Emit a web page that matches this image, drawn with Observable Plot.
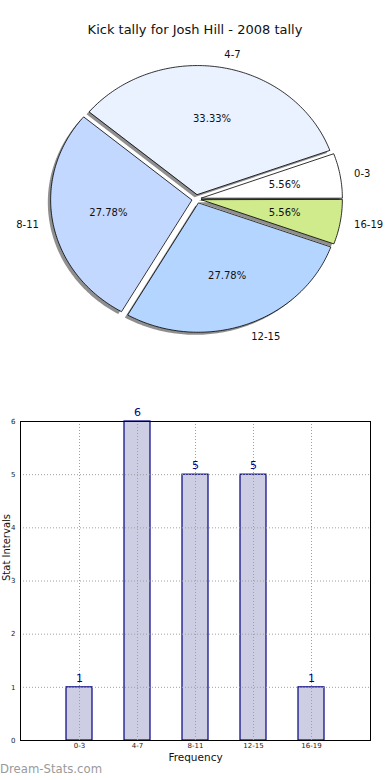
<!DOCTYPE html>
<html>
<head>
<meta charset="utf-8">
<script src="https://cdn.jsdelivr.net/npm/d3@7"></script>
<script src="https://cdn.jsdelivr.net/npm/@observablehq/plot@0.6"></script>
<style>
  body { margin: 0; background: #fff; font-family: "DejaVu Sans", sans-serif; }
  #page { position: relative; width: 390px; height: 780px; overflow: hidden; background: #fff; }
  #title { height: 40px; box-sizing: border-box; padding-top: 22px; font-size: 13px; line-height: 15px; text-align: center; color: #111; }
  #pie, #bar { line-height: 0; }
  #wm { position: absolute; left: 0; top: 762px; font-size: 11.7px; line-height: 15px; color: #9a9a9a; }
</style>
</head>
<body>
<div id="page">
  <div id="title">Kick tally for Josh Hill - 2008 tally</div>
  <div id="pie"></div>
  <div id="bar"></div>
  <div id="wm">Dream-Stats.com</div>
</div>
<script>
// ---- data ----
const categories = ["0-3", "4-7", "8-11", "12-15", "16-19"];
const counts = [1, 6, 5, 5, 1];
const sliceColors = ["#ffffff", "#eaf2ff", "#c3d8ff", "#b4d5ff", "#cfeb8b"];
const yTicks = [0, 1, 2, 3, 4, 5, 6];

// ---- pie (matplotlib-style: start at 3 o'clock, counter-clockwise, exploded, shadow) ----
const W = 390, PH = 340;
const cx = 196, cyL = 158.5, rx = 141, ry = 129;
const EXPLODE = 0.035, SH = 0.02;
const total = d3.sum(counts);
const arcs = d3.pie().sort(null).startAngle(0).endAngle(2 * Math.PI)(counts);
const slices = arcs.map((a, i) => {
  const mid = (a.startAngle + a.endAngle) / 2;
  return {
    cat: categories[i], value: counts[i], a0: a.startAngle, a1: a.endAngle, mid,
    ox: EXPLODE * Math.cos(mid), oy: EXPLODE * Math.sin(mid),
    pct: (counts[i] / total * 100).toFixed(2) + "%"
  };
});
function slicePoints(s, dx, dy) {
  const ox = s.ox + dx, oy = s.oy + dy;
  const pts = [{x: ox, y: oy}];
  const n = Math.max(8, Math.ceil((s.a1 - s.a0) / (Math.PI / 180)));
  for (let k = 0; k <= n; k++) {
    const t = s.a0 + (s.a1 - s.a0) * k / n;
    pts.push({x: ox + Math.cos(t), y: oy + Math.sin(t)});
  }
  return pts;
}
const pieMarks = [];
slices.forEach(s => pieMarks.push(Plot.line(slicePoints(s, -SH, -SH), {
  x: "x", y: "y", curve: "linear-closed", fill: "#333", fillOpacity: 0.55, stroke: "none"
})));
slices.forEach((s, i) => pieMarks.push(Plot.line(slicePoints(s, 0, 0), {
  x: "x", y: "y", curve: "linear-closed", fill: sliceColors[i], stroke: "#000", strokeWidth: 0.8
})));
pieMarks.push(Plot.text(slices, {
  x: s => s.ox + 0.6 * Math.cos(s.mid), y: s => s.oy + 0.6 * Math.sin(s.mid),
  text: "pct", fontSize: 10, fill: "#111", textAnchor: "middle"
}));
pieMarks.push(Plot.text(slices.filter(s => Math.cos(s.mid) >= 0), {
  x: s => s.ox + 1.1 * Math.cos(s.mid), y: s => s.oy + 1.1 * Math.sin(s.mid),
  text: "cat", fontSize: 10, fill: "#111", textAnchor: "start"
}));
pieMarks.push(Plot.text(slices.filter(s => Math.cos(s.mid) < 0), {
  x: s => s.ox + 1.1 * Math.cos(s.mid), y: s => s.oy + 1.1 * Math.sin(s.mid),
  text: "cat", fontSize: 10, fill: "#111", textAnchor: "end"
}));

const pie = Plot.plot({
  width: W, height: PH, margin: 0,
  style: {fontFamily: "DejaVu Sans", background: "#fff", overflow: "visible"},
  x: {domain: [-cx / rx, (W - cx) / rx], axis: null},
  y: {domain: [-(PH - cyL) / ry, cyL / ry], axis: null},
  marks: pieMarks
});
document.getElementById("pie").appendChild(pie);

// ---- bar chart ----
const barData = categories.map((c, i) => ({cat: c, value: counts[i]}));
const gridStyle = {stroke: "#a0a0a0", strokeWidth: 1, strokeDasharray: "1,2"};
const bar = Plot.plot({
  width: W, height: 400,
  marginTop: 41, marginBottom: 40, marginLeft: 20, marginRight: 20,
  style: {fontFamily: "DejaVu Sans", fontSize: "7px", background: "#fff", color: "#222", overflow: "visible"},
  x: {domain: categories, paddingInner: 0.545, paddingOuter: 0.7725, tickSize: 0, tickPadding: 3, label: null},
  y: {domain: [0, 6], ticks: yTicks, tickFormat: d => String(d), tickSize: 0, tickPadding: 5, label: null},
  marks: [
    Plot.barY(barData, {x: "cat", y: "value", fill: "#cdcde3", stroke: "#000080", strokeWidth: 1.2}),
    Plot.ruleY(yTicks, gridStyle),
    Plot.ruleX(categories, gridStyle),
    Plot.text(barData, {x: "cat", y: "value", text: d => String(d.value), dy: -9, fill: "#00008b", fontSize: 11}),
    Plot.frame({stroke: "#000", strokeWidth: 1}),
    Plot.text(["Stat Intervals"], {frameAnchor: "left", rotate: -90, dx: -13.5, fontSize: 10, fill: "#111"}),
    Plot.text(["Frequency"], {frameAnchor: "bottom", dy: 20, fontSize: 10.5, fill: "#111"})
  ]
});
document.getElementById("bar").appendChild(bar);
</script>
</body>
</html>
